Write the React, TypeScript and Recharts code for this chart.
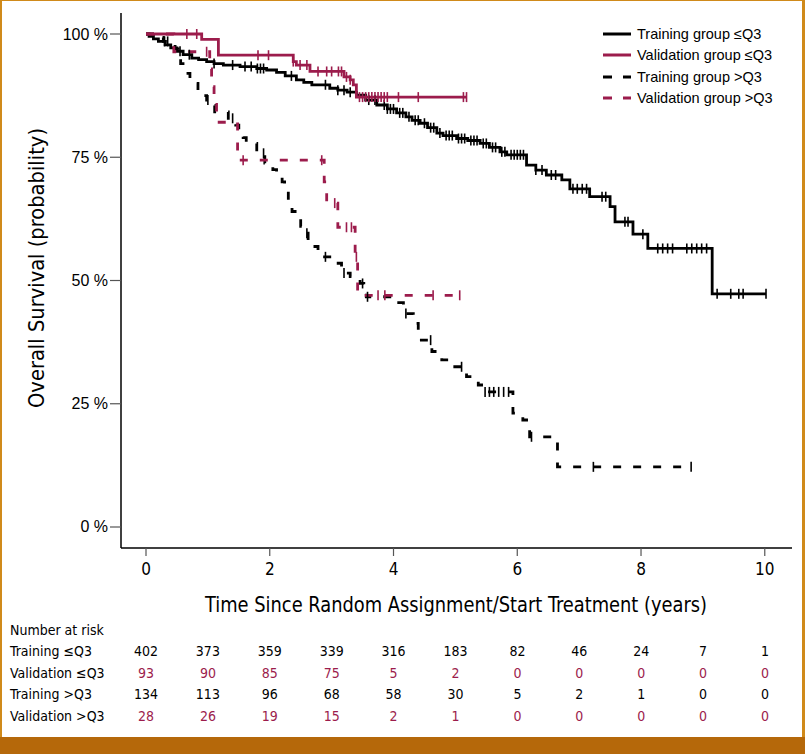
import React from 'react';
import { ComposedChart, Line, Scatter, XAxis, YAxis } from 'recharts';

const BLACK = '#000000';
const CRIMSON = '#9c1c4c';
const ORANGE = '#b5680a';
const NARROW = "'Liberation Sans Narrow', 'DejaVu Sans Condensed', 'Arial Narrow', sans-serif";
const REGULAR = "'Liberation Sans', Arial, sans-serif";

const X_TICKS = [0, 2, 4, 6, 8, 10];
const Y_TICKS = [0, 0.25, 0.5, 0.75, 1];

// step curves: [time in years, survival]
const trainLowSteps: [number, number][] = [
  [0, 1], [0.05, 0.995], [0.12, 0.99], [0.2, 0.985], [0.31, 0.978], [0.4, 0.972],
  [0.5, 0.965], [0.6, 0.958], [0.74, 0.951], [0.85, 0.948], [0.98, 0.944], [1.1, 0.94],
  [1.25, 0.937], [1.52, 0.934], [1.79, 0.93], [1.95, 0.927], [2.11, 0.922], [2.25, 0.915],
  [2.43, 0.907], [2.55, 0.902], [2.68, 0.897], [2.97, 0.89], [3.1, 0.886], [3.25, 0.882],
  [3.4, 0.876], [3.55, 0.866], [3.73, 0.856], [3.9, 0.848], [4.05, 0.84], [4.2, 0.832],
  [4.3, 0.825], [4.43, 0.819], [4.55, 0.81], [4.7, 0.799], [4.8, 0.794], [5.02, 0.788],
  [5.2, 0.784], [5.4, 0.778], [5.55, 0.77], [5.72, 0.761], [5.83, 0.755], [6.15, 0.734],
  [6.3, 0.724], [6.47, 0.714], [6.72, 0.704], [6.85, 0.686], [7.17, 0.67], [7.5, 0.65],
  [7.58, 0.619], [7.87, 0.594], [8.11, 0.565], [9.15, 0.473], [10.02, 0.473],
];
const valLowSteps: [number, number][] = [
  [0, 1], [0.9, 0.989], [1.17, 0.957], [2.38, 0.944], [2.43, 0.937], [2.65, 0.924],
  [3.2, 0.913], [3.3, 0.907], [3.35, 0.897], [3.4, 0.872], [5.18, 0.872],
];
const trainHighSteps: [number, number][] = [
  [0, 1], [0.15, 0.993], [0.28, 0.985], [0.4, 0.978], [0.47, 0.97], [0.52, 0.955],
  [0.56, 0.94], [0.65, 0.92], [0.71, 0.9], [0.84, 0.886], [0.92, 0.875], [0.98, 0.866],
  [1.05, 0.855], [1.11, 0.842], [1.33, 0.829], [1.45, 0.815], [1.5, 0.805], [1.57, 0.79],
  [1.62, 0.778], [1.79, 0.758], [1.92, 0.738], [2.05, 0.725], [2.11, 0.717], [2.2, 0.7],
  [2.24, 0.684], [2.3, 0.657], [2.36, 0.64], [2.41, 0.626], [2.5, 0.61], [2.55, 0.596],
  [2.62, 0.58], [2.67, 0.569], [2.78, 0.548], [2.97, 0.535], [3.16, 0.515], [3.3, 0.508],
  [3.46, 0.494], [3.52, 0.478], [3.56, 0.467], [4.05, 0.455], [4.16, 0.433], [4.32, 0.413],
  [4.4, 0.395], [4.45, 0.379], [4.62, 0.356], [4.78, 0.339], [4.99, 0.325], [5.18, 0.305],
  [5.37, 0.288], [5.45, 0.274], [5.93, 0.231], [6.09, 0.217], [6.2, 0.183], [6.65, 0.122],
  [8.81, 0.122],
];
const valHighSteps: [number, number][] = [
  [0, 1], [0.45, 0.964], [1.03, 0.929], [1.06, 0.893], [1.1, 0.857], [1.14, 0.821],
  [1.48, 0.744], [2.88, 0.7], [2.92, 0.657], [3.1, 0.608], [3.38, 0.548], [3.42, 0.47],
  [5.07, 0.47],
];

// censoring times
const trainLowCensor = [
  0.3, 0.55, 0.7, 1.1, 1.4, 1.6, 1.7, 1.8, 1.85, 1.9, 2.35, 2.9, 3.1, 3.2, 3.3, 3.6, 3.7,
  3.85, 3.9, 3.95, 4.0, 4.1, 4.15, 4.25, 4.35, 4.4, 4.5, 4.6, 4.65, 4.75, 4.85, 4.9, 4.95,
  5.05, 5.1, 5.15, 5.25, 5.3, 5.35, 5.45, 5.5, 5.6, 5.65, 5.75, 5.8, 5.9, 5.95, 6.0, 6.05,
  6.1, 6.3, 6.4, 6.55, 6.62, 6.9, 6.97, 7.05, 7.12, 7.37, 7.43, 7.74, 7.79, 8.03, 8.27,
  8.35, 8.43, 8.51, 8.74, 8.82, 8.9, 8.98, 9.06, 9.23, 9.45, 9.58, 9.65, 10.02,
];
const valLowCensor = [
  0.66, 0.82, 1.81, 1.98, 2.38, 2.49, 2.6, 2.78, 2.92, 3.0, 3.11, 3.16, 3.24, 3.3, 3.45,
  3.5, 3.55, 3.6, 3.65, 3.7, 3.75, 3.8, 3.85, 3.9, 4.08, 4.4, 5.13, 5.18,
];
const trainHighCensor = [
  0.35, 1.0, 1.4, 1.9, 2.6, 2.9, 3.2, 3.5, 3.58, 4.2, 4.6, 5.1, 5.48, 5.55, 5.62, 5.7,
  5.78, 5.86, 6.23, 7.23, 8.81,
];
const valHighCensor = [0.98, 1.57, 2.84, 3.05, 3.24, 3.32, 3.4, 3.75, 3.86, 4.64, 5.07];

// number at risk
const riskYears = [0, 1, 2, 3, 4, 5, 6, 7, 8, 9, 10];
const riskTrainLow = [402, 373, 359, 339, 316, 183, 82, 46, 24, 7, 1];
const riskValLow = [93, 90, 85, 75, 5, 2, 0, 0, 0, 0, 0];
const riskTrainHigh = [134, 113, 96, 68, 58, 30, 5, 2, 1, 0, 0];
const riskValHigh = [28, 26, 19, 15, 2, 1, 0, 0, 0, 0, 0];

const toPoints = (steps: [number, number][]) => steps.map(([t, s]) => ({ t, s }));
const survAt = (steps: [number, number][], t: number) => {
  let s = steps[0][1];
  for (const [ti, si] of steps) if (ti <= t + 1e-9) s = si;
  return s;
};
const censorPoints = (steps: [number, number][], times: number[]) =>
  times.map((t) => ({ t, s: survAt(steps, t) }));

const series = [
  { name: 'Training group ≤Q3', color: BLACK, dashed: false },
  { name: 'Validation group ≤Q3', color: CRIMSON, dashed: false },
  { name: 'Training group >Q3', color: BLACK, dashed: true },
  { name: 'Validation group >Q3', color: CRIMSON, dashed: true },
];

const CensorMark = (color: string) => (props: any) => {
  const { cx, cy } = props;
  if (cx == null || cy == null) return <g />;
  return <line x1={cx} x2={cx} y1={cy - 5} y2={cy + 5} stroke={color} strokeWidth={1.6} />;
};

function XTick({ x, y, payload }: any) {
  return (
    <text x={x} y={y + 17} textAnchor="middle" fontFamily={NARROW} fontSize={17} fill="#000">
      {payload.value}
    </text>
  );
}

function YTick({ x, y, payload }: any) {
  return (
    <text x={x} y={y + 5.5} textAnchor="end" fontFamily={REGULAR} fontSize={16} fill="#000">
      {`${Math.round(payload.value * 100)} %`}
    </text>
  );
}

function LegendBox() {
  return (
    <div
      style={{
        position: 'absolute',
        left: 603,
        top: 23,
        fontFamily: REGULAR,
        fontSize: 14.5,
        color: '#000',
      }}
    >
      {series.map((s) => (
        <div key={s.name} style={{ display: 'flex', alignItems: 'center', height: 21.5 }}>
          <svg width={34} height={10}>
            <line
              x1={0}
              x2={28}
              y1={5}
              y2={5}
              stroke={s.color}
              strokeWidth={3}
              strokeDasharray={s.dashed ? '9 11' : undefined}
            />
          </svg>
          <span>{s.name}</span>
        </div>
      ))}
    </div>
  );
}

const riskRows = [
  { label: 'Training ≤Q3', values: riskTrainLow, color: BLACK },
  { label: 'Validation ≤Q3', values: riskValLow, color: CRIMSON },
  { label: 'Training >Q3', values: riskTrainHigh, color: BLACK },
  { label: 'Validation >Q3', values: riskValHigh, color: CRIMSON },
];

export default function App() {
  const x0 = 146;
  const pxPerYear = 61.9;
  return (
    <div
      style={{
        position: 'absolute',
        left: 0,
        top: 0,
        width: 805,
        height: 754,
        background: '#fff',
        overflow: 'hidden',
      }}
    >
      {/* frame */}
      <div style={{ position: 'absolute', left: 0, top: 0, width: 805, height: 1, background: '#d08a1a' }} />
      <div style={{ position: 'absolute', left: 0, top: 0, width: 2, height: 754, background: '#d08a1a' }} />
      <div style={{ position: 'absolute', right: 0, top: 0, width: 3, height: 754, background: '#d08a1a' }} />
      <div style={{ position: 'absolute', left: 0, top: 737, width: 805, height: 17, background: ORANGE }} />

      <div style={{ position: 'absolute', left: 0, top: 0 }}>
        <ComposedChart width={805} height={600} margin={{ top: 13, right: 13, bottom: 0, left: 0 }}>
          <XAxis
            type="number"
            dataKey="t"
            domain={[-0.404, 10.44]}
            ticks={X_TICKS}
            allowDataOverflow
            height={52}
            tickSize={8}
            axisLine={{ stroke: '#000', strokeWidth: 1.5 }}
            tickLine={{ stroke: '#555', strokeWidth: 1.2 }}
            tick={<XTick />}
            interval={0}
          />
          <YAxis
            type="number"
            dataKey="s"
            domain={[-0.0426, 1.0426]}
            ticks={Y_TICKS}
            allowDataOverflow
            width={121}
            tickSize={11}
            axisLine={{ stroke: '#000', strokeWidth: 1.5 }}
            tickLine={{ stroke: '#555', strokeWidth: 1.2 }}
            tick={<YTick />}
            interval={0}
          />
          <Line
            data={toPoints(trainLowSteps)}
            dataKey="s"
            type="stepAfter"
            stroke={BLACK}
            strokeWidth={2.8}
            dot={false}
            isAnimationActive={false}
          />
          <Line
            data={toPoints(trainHighSteps)}
            dataKey="s"
            type="stepAfter"
            stroke={BLACK}
            strokeWidth={2.8}
            strokeDasharray="8 12"
            dot={false}
            isAnimationActive={false}
          />
          <Line
            data={toPoints(valHighSteps)}
            dataKey="s"
            type="stepAfter"
            stroke={CRIMSON}
            strokeWidth={2.8}
            strokeDasharray="8 12"
            dot={false}
            isAnimationActive={false}
          />
          <Line
            data={toPoints(valLowSteps)}
            dataKey="s"
            type="stepAfter"
            stroke={CRIMSON}
            strokeWidth={2.8}
            dot={false}
            isAnimationActive={false}
          />
          <Scatter
            data={censorPoints(trainLowSteps, trainLowCensor)}
            dataKey="s"
            shape={CensorMark(BLACK)}
            isAnimationActive={false}
          />
          <Scatter
            data={censorPoints(trainHighSteps, trainHighCensor)}
            dataKey="s"
            shape={CensorMark(BLACK)}
            isAnimationActive={false}
          />
          <Scatter
            data={censorPoints(valHighSteps, valHighCensor)}
            dataKey="s"
            shape={CensorMark(CRIMSON)}
            isAnimationActive={false}
          />
          <Scatter
            data={censorPoints(valLowSteps, valLowCensor)}
            dataKey="s"
            shape={CensorMark(CRIMSON)}
            isAnimationActive={false}
          />
        </ComposedChart>
      </div>

      <LegendBox />

      {/* axis titles */}
      <svg style={{ position: 'absolute', left: 0, top: 0 }} width={805} height={640} pointerEvents="none">
        <text
          x={456}
          y={612}
          textAnchor="middle"
          fontFamily={NARROW}
          fontSize={21}
          textLength={502}
          lengthAdjust="spacingAndGlyphs"
        >
          Time Since Random Assignment/Start Treatment (years)
        </text>
        <text
          transform="translate(44,268) rotate(-90)"
          textAnchor="middle"
          fontFamily={NARROW}
          fontSize={22}
          textLength={280}
          lengthAdjust="spacingAndGlyphs"
        >
          Overall Survival (probability)
        </text>
      </svg>

      {/* number at risk table */}
      <div style={{ position: 'absolute', left: 10, top: 622, fontFamily: NARROW, fontSize: 14 }}>
        Number at risk
      </div>
      {riskRows.map((row, r) => (
        <React.Fragment key={row.label}>
          <div
            style={{
              position: 'absolute',
              left: 10,
              top: 643 + r * 21.7,
              fontFamily: NARROW,
              fontSize: 14,
              color: '#000',
            }}
          >
            {row.label}
          </div>
          {row.values.map((v, i) => (
            <div
              key={i}
              style={{
                position: 'absolute',
                left: x0 + pxPerYear * riskYears[i] - 30,
                width: 60,
                textAlign: 'center',
                top: 643 + r * 21.7,
                fontFamily: NARROW,
                fontSize: 14,
                color: row.color,
              }}
            >
              {v}
            </div>
          ))}
        </React.Fragment>
      ))}
    </div>
  );
}
